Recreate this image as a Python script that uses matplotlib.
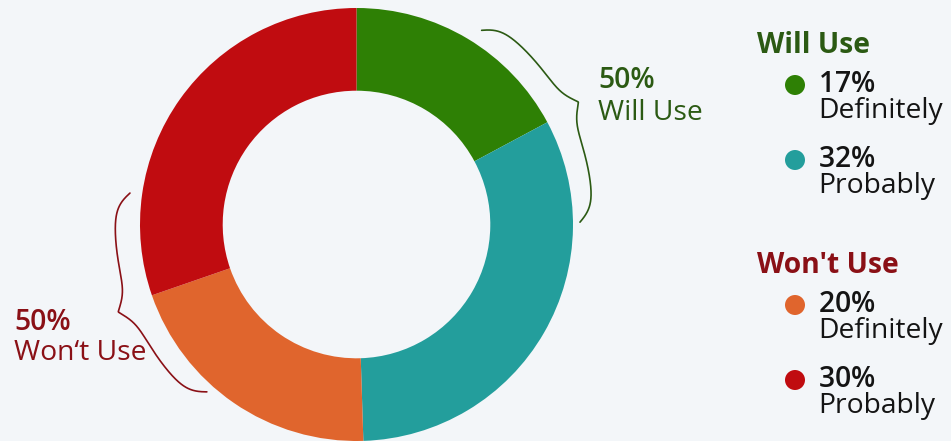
import numpy as np
import matplotlib.pyplot as plt
from matplotlib.patches import Circle

# survey shares, clockwise from the top of the ring
segments = ["Definitely will", "Probably will", "Definitely won't", "Probably won't"]
shares = [17, 32, 20, 30]
colors = ["#2e8005", "#239e9c", "#e0652d", "#c00c10"]

# legend groups
group_titles = ["Will Use", "Won't Use"]
group_totals = [50, 50]
group_members = [[0, 1], [2, 3]]
member_labels = ["Definitely", "Probably", "Definitely", "Probably"]

BG = "#f3f6f9"
GREEN_TXT = "#2b5a13"
RED_TXT = "#8a1016"
FS = 20.3

plt.rcParams['font.family'] = ['Open Sans', 'DejaVu Sans']
plt.rcParams['mathtext.fontset'] = 'custom'
plt.rcParams['mathtext.rm'] = 'Open Sans'
plt.rcParams['mathtext.bf'] = 'Open Sans:semibold'

W, H = 951, 441
fig = plt.figure(figsize=(W / 100, H / 100), dpi=100, facecolor=BG)
ax = fig.add_axes([0, 0, 1, 1])
ax.set_facecolor(BG)

cx, cy, R = 356.5, 216.5, 216.5
ax.pie(shares, colors=colors, startangle=90, counterclock=False,
       center=(cx, cy), radius=R, frame=True,
       wedgeprops=dict(width=R * 0.382, linewidth=0))
ax.set_xlim(0, W)
ax.set_ylim(0, H)
ax.set_aspect('equal')
ax.axis('off')


def brace(a0, a1, r0, r1, height, color, beta=28, n=400):
    """Curly brace bent along an arc around the ring centre."""
    half = np.linspace(0, 0.5, n // 2)
    yh = 1 / (1 + np.exp(-beta * (half - half[0]))) + \
        1 / (1 + np.exp(-beta * (half - half[-1])))
    prof = np.concatenate([yh, yh[::-1]]) - 0.5
    u = np.linspace(0, 1, len(prof))
    ang = np.radians(a0 + u * (a1 - a0))
    rr = r0 + u * (r1 - r0) + height * prof
    ax.plot(cx + rr * np.cos(ang), cy + rr * np.sin(ang),
            color=color, lw=1.2, solid_capstyle='round')


brace(57.2, 0.6, 231, 223.5, 26, GREEN_TXT)
brace(172.1, 228.2, 228.7, 224.5, 27, RED_TXT)

# group annotations next to the braces
ax.text(598, 353, f"{group_totals[0]}%", color=GREEN_TXT, fontsize=FS,
        fontweight='semibold', va='baseline')
ax.text(598, 321, group_titles[0], color=GREEN_TXT, fontsize=FS,
        va='baseline')
ax.text(14, 111, f"{group_totals[1]}%", color=RED_TXT, fontsize=FS,
        fontweight='semibold', va='baseline')
ax.text(14, 81, "Won\u2018t Use", color=RED_TXT, fontsize=FS,
        va='baseline')

# legend: bold share on the first line, answer on the second
title_colors = [GREEN_TXT, RED_TXT]
title_y = [388, 168]
for g, title in enumerate(group_titles):
    ty = title_y[g]
    ax.text(757, ty, title, color=title_colors[g], fontsize=FS,
            fontweight='bold', va='baseline')
    for k, idx in enumerate(group_members[g]):
        ny = ty - 40 - 75 * k
        ax.add_patch(Circle((795, ny + 8), 10, color=colors[idx], lw=0))
        label = r"$\mathbf{%d\%%}$" % shares[idx] + "\n" + member_labels[idx]
        ax.text(818, ny + 22, label, color="#141414", fontsize=FS,
                va='top', linespacing=0.92)

fig.savefig("out.png", dpi=100, facecolor=BG)
